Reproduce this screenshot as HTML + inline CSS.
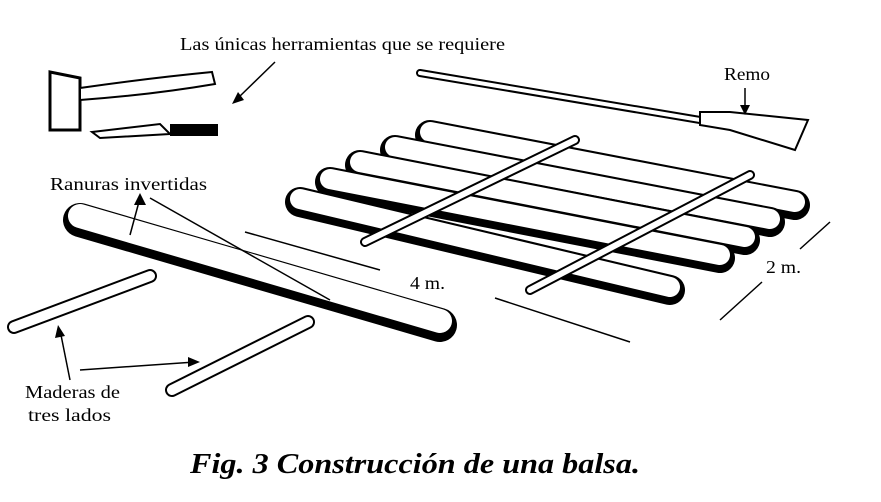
<!DOCTYPE html>
<html><head><meta charset="utf-8"><style>
html,body{margin:0;padding:0;background:#fff;}
svg{display:block;}
text{font-family:"Liberation Serif",serif;fill:#000;}
</style></head><body>
<svg width="881" height="502" viewBox="0 0 881 502" xmlns="http://www.w3.org/2000/svg">
<rect width="881" height="502" fill="#fff"/>
<g stroke-linecap="round">
<line x1="420" y1="73" x2="700" y2="120" stroke="#000" stroke-width="8"/>
<line x1="420" y1="73" x2="700" y2="120" stroke="#fff" stroke-width="4"/>
<polygon points="700,112 730,112 808,120 795,150 730,130 700,125" fill="#fff" stroke="#000" stroke-width="2"/>
<g>
<line x1="430" y1="135" x2="795" y2="205" stroke="#000" stroke-width="30"/>
<line x1="430" y1="132" x2="795" y2="202" stroke="#fff" stroke-width="20"/>
<line x1="395" y1="150" x2="770" y2="222" stroke="#000" stroke-width="30"/>
<line x1="395" y1="147" x2="770" y2="219" stroke="#fff" stroke-width="20"/>
<line x1="360" y1="165" x2="745" y2="240" stroke="#000" stroke-width="30"/>
<line x1="360" y1="162" x2="745" y2="237" stroke="#fff" stroke-width="20"/>
<line x1="330" y1="182" x2="720" y2="258" stroke="#000" stroke-width="30"/>
<line x1="330" y1="179" x2="720" y2="255" stroke="#fff" stroke-width="20"/>
<line x1="300" y1="202" x2="670" y2="290" stroke="#000" stroke-width="30"/>
<line x1="300" y1="199" x2="670" y2="287" stroke="#fff" stroke-width="20"/>
</g>
<line x1="365" y1="242" x2="575" y2="140" stroke="#000" stroke-width="10"/>
<line x1="365" y1="242" x2="575" y2="140" stroke="#fff" stroke-width="6"/>
<line x1="530" y1="290" x2="750" y2="175" stroke="#000" stroke-width="10"/>
<line x1="530" y1="290" x2="750" y2="175" stroke="#fff" stroke-width="6"/>
<line x1="80" y1="220" x2="440" y2="325" stroke="#000" stroke-width="34"/>
<line x1="80" y1="216" x2="440" y2="321" stroke="#fff" stroke-width="24"/>
<line x1="14" y1="327" x2="150" y2="276" stroke="#000" stroke-width="14"/>
<line x1="14" y1="327" x2="150" y2="276" stroke="#fff" stroke-width="10"/>
<line x1="172" y1="390" x2="308" y2="322" stroke="#000" stroke-width="14"/>
<line x1="172" y1="390" x2="308" y2="322" stroke="#fff" stroke-width="10"/>
</g>
<path d="M50,72 L80,78 L80,130 L50,130 Z" fill="#fff" stroke="#000" stroke-width="3"/>
<path d="M80,88 Q150,78 212,72 L215,84 Q150,95 80,100 Z" fill="#fff" stroke="#000" stroke-width="2"/>
<path d="M92,132 L160,124 L170,134 L100,138 Z" fill="#fff" stroke="#000" stroke-width="2"/>
<rect x="170" y="124" width="48" height="12" fill="#000"/>
<g stroke="#000" stroke-width="1.5" fill="none">
<line x1="245" y1="232" x2="380" y2="270"/>
<line x1="495" y1="298" x2="630" y2="342"/>
<line x1="720" y1="320" x2="762" y2="282"/>
<line x1="800" y1="249" x2="830" y2="222"/>
<line x1="275" y1="62" x2="238" y2="98"/>
<line x1="745" y1="88" x2="745" y2="110"/>
<line x1="140" y1="198" x2="130" y2="235"/>
<line x1="150" y1="198" x2="330" y2="300"/>
<line x1="70" y1="380" x2="60" y2="330"/>
<line x1="80" y1="370" x2="195" y2="362"/>
</g>
<g fill="#000">
<polygon points="232,104 238,92 244,100"/>
<polygon points="745,115 740,105 750,105"/>
<polygon points="140,193 134,205 146,205"/>
<polygon points="58,325 55,338 65,336"/>
<polygon points="200,362 188,357 188,367"/>
</g>
<text x="180" y="50" font-size="18" textLength="325" lengthAdjust="spacingAndGlyphs">Las únicas herramientas que se requiere</text>
<text x="724" y="80" font-size="18" textLength="46" lengthAdjust="spacingAndGlyphs">Remo</text>
<text x="50" y="190" font-size="18" textLength="157" lengthAdjust="spacingAndGlyphs">Ranuras invertidas</text>
<text x="410" y="289" font-size="18" textLength="35" lengthAdjust="spacingAndGlyphs">4 m.</text>
<text x="766" y="273" font-size="18" textLength="35" lengthAdjust="spacingAndGlyphs">2 m.</text>
<text x="25" y="398" font-size="18" textLength="95" lengthAdjust="spacingAndGlyphs">Maderas de</text>
<text x="28" y="421" font-size="18" textLength="83" lengthAdjust="spacingAndGlyphs">tres lados</text>
<text x="190" y="473" font-size="28" font-style="italic" font-weight="bold" textLength="450" lengthAdjust="spacingAndGlyphs">Fig. 3 Construcción de una balsa.</text>
</svg>
</body></html>
